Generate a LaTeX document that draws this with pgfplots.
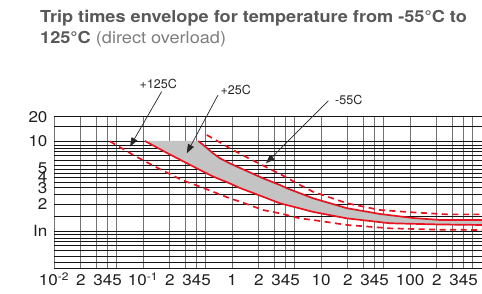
\documentclass[border=0pt]{standalone}
\usepackage{fontspec}
\setmainfont{TeX Gyre Heros}
\newfontfamily\titlefont{TeX Gyre Heros}[FakeStretch=1.1]
\usepackage{pgfplots}
\pgfplotsset{compat=1.18}
\usetikzlibrary{arrows.meta}
\definecolor{cred}{RGB}{230,20,32}
\definecolor{cgray}{RGB}{196,196,196}
\definecolor{ttl}{RGB}{88,88,88}
\definecolor{ttlb}{RGB}{125,125,125}

% lower dashed
\pgfplotstableread{
x y
0.0425 9.9
0.0813 6.81
0.1486 4.97
0.272 3.69
0.436 3.11
0.951 2.30
1.23 2.12
2.23 1.71
3.46 1.57
5.81 1.38
8.13 1.325
19.6 1.166
59.6 1.07
217 1.034
644 1.026
}\lowdash
% lower solid
\pgfplotstableread{
x y
0.105 10
0.186 7.36
0.312 5.65
0.436 4.76
0.612 4.03
0.951 3.37
1.23 3.00
2.23 2.40
3.46 2.03
5.81 1.78
8.13 1.63
19.6 1.38
59.6 1.218
217 1.181
644 1.166
}\lowsolid
% upper solid
\pgfplotstableread{
x y
0.418 10
0.498 8.69
0.612 7.30
0.733 6.42
0.951 5.62
1.14 5.18
2.23 3.85
3.46 3.24
4.15 2.98
8.13 2.31
19.6 1.79
46.0 1.545
108 1.394
217 1.325
644 1.325
}\upsolid
% upper dashed
\pgfplotstableread{
x y
0.520 11.66
0.733 9.62
0.951 8.26
1.59 6.31
2.41 5.14
3.46 4.30
5.81 3.24
8.13 2.73
19.6 2.03
46.0 1.71
108 1.61
261 1.53
644 1.53
}\updash

\begin{document}
\begin{tikzpicture}
\begin{axis}[
  at={(0,0)}, anchor=south west,
  scale only axis, width=428pt, height=151.6pt,
  xmode=log, ymode=log,
  xmin=0.01, xmax=644, ymin=0.385, ymax=18.6,
  clip=false,
  axis line style={draw=none},
  major tick length=0pt, minor tick length=0pt,
  xtick={0.01,0.02,0.03,0.04,0.05,0.1,0.2,0.3,0.4,0.5,1,2,3,4,5,10,20,30,40,50,100,200,300,400,500},
  xticklabels={10\textsuperscript{-2},2,,345,,10\textsuperscript{-1},2,,345,,1,2,,345,,10,2,,345,,100,2,,345,},
  ytick={0.385,0.45,0.53,0.61,0.69,0.76,0.84,0.92,1,1.44,1.98,2.56,3.03,3.47,3.91,4.38,4.89,5.41,6.15,6.87,7.6,8.3,9.03,10,14.4,18.6},
  yticklabels={},
  extra y ticks={1,2,3,4,5,10,18.6},
  extra y tick labels={In,2,3,4,5,10,20},
  extra y tick style={grid=none},
  xmajorgrids, ymajorgrids,
  x grid style={black!55, line width=0.9pt},
  y grid style={black!92, line width=0.55pt},
  tick label style={font=\titlefont\fontsize{15.5}{15.5}\selectfont, text=black!88},
  xticklabel style={text height=11.5pt, yshift=-2.5pt},
  yticklabel style={xshift=-3pt},
]
\addplot[fill=cgray, draw=none] table[x=x,y=y]{
x y
0.105 10
0.186 7.36
0.312 5.65
0.436 4.76
0.612 4.03
0.951 3.37
1.23 3.00
2.23 2.40
3.46 2.03
5.81 1.78
8.13 1.63
19.6 1.38
59.6 1.218
217 1.181
644 1.166
644 1.325
217 1.325
108 1.394
46.0 1.545
19.6 1.79
8.13 2.31
4.15 2.98
3.46 3.24
2.23 3.85
1.14 5.18
0.951 5.62
0.733 6.42
0.612 7.30
0.498 8.69
0.418 10
} -- cycle;
\addplot[cred, line width=1.7pt, dash pattern=on 6pt off 4.5pt] table[x=x,y=y]{\lowdash};
\addplot[cred, line width=1.7pt, dash pattern=on 6pt off 4.5pt] table[x=x,y=y]{\updash};
\addplot[cred, line width=1.7pt] table[x=x,y=y]{\lowsolid};
\addplot[cred, line width=1.7pt] table[x=x,y=y]{\upsolid};

\draw[black!85, line width=0.7pt, -{Triangle[length=9pt,width=6.5pt]}] (axis cs:0.162,35.3) -- (axis cs:0.0714,8.65);
\draw[black!85, line width=0.7pt, -{Triangle[length=9pt,width=6.5pt]}] (axis cs:0.697,32.4) -- (axis cs:0.310,7.30);
\draw[black!85, line width=0.7pt, -{Triangle[length=9pt,width=6.5pt]}] (axis cs:12.1,28.0) -- (axis cs:2.41,5.65);
\node[font=\fontsize{12.5}{12.5}\selectfont, text=black!85, inner sep=0pt] at (axis cs:0.1486,43.3) {+125C};
\node[font=\fontsize{12.5}{12.5}\selectfont, text=black!85, inner sep=0pt] at (axis cs:1.10,36.9) {+25C};
\node[font=\fontsize{12.5}{12.5}\selectfont, text=black!85, inner sep=0pt] at (axis cs:20.5,28.5) {-55C};
\end{axis}
\node[anchor=base west, inner sep=0pt, text=ttl, font=\titlefont\bfseries\fontsize{16.5}{16.5}\selectfont] at (-14pt,245.6pt) {Trip times envelope for temperature from -55°C to};
\node[anchor=base west, inner sep=0pt, font=\titlefont\fontsize{16.5}{16.5}\selectfont] at (-14pt,224.8pt) {\textcolor{ttl}{\bfseries 125°C} \textcolor{ttlb}{(direct overload)}};
\pgfresetboundingbox
\path (-54pt,-24.7pt) rectangle (428pt,268.3pt);
\end{tikzpicture}
\end{document}
